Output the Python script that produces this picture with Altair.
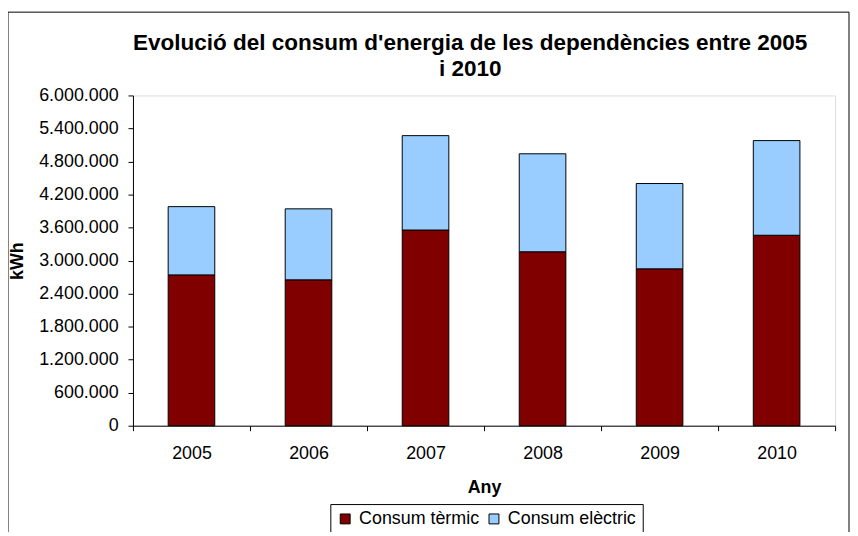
import altair as alt
import pandas as pd

years = ["2005", "2006", "2007", "2008", "2009", "2010"]
termic = [2740000, 2650000, 3555000, 3160000, 2850000, 3460000]
electric = [1240000, 1290000, 1715000, 1780000, 1550000, 1720000]
series = ["Consum tèrmic", "Consum elèctric"]
y_ticks = [0, 600000, 1200000, 1800000, 2400000, 3000000, 3600000, 4200000, 4800000, 5400000, 6000000]

rows = []
for y, t, e in zip(years, termic, electric):
    rows.append({"Any": y, "serie": series[0], "ord": 0, "kWh": t})
    rows.append({"Any": y, "serie": series[1], "ord": 1, "kWh": e})
df = pd.DataFrame(rows)

FONT = "Liberation Sans, Arial, sans-serif"
W, H = 708, 333

bars = alt.Chart(df).mark_bar(size=47, stroke="black", strokeWidth=1).encode(
    x=alt.X("Any:N", sort=years,
            scale=alt.Scale(paddingInner=0, paddingOuter=0),
            axis=alt.Axis(title="Any", labelAngle=0, tickBand="extent", tickSize=5,
                          labelPadding=14, labelFontSize=18, labelFont=FONT,
                          labelColor="black", domainColor="black", tickColor="black",
                          titleFontSize=18, titleFont=FONT, titleFontWeight="bold",
                          titleColor="black", titleX=W / 2, titleY=62,
                          titleBaseline="middle", titleAlign="center")),
    y=alt.Y("kWh:Q", stack="zero",
            scale=alt.Scale(domain=[0, 6000000], nice=False),
            axis=alt.Axis(title="kWh", values=y_ticks, format=",.0f", grid=False,
                          tickSize=5, labelPadding=10, labelFontSize=18, labelFont=FONT,
                          labelColor="black", domainColor="black", tickColor="black",
                          titleFontSize=18, titleFont=FONT, titleFontWeight="bold",
                          titleColor="black", titleX=-116, titleY=H / 2, titleAngle=270,
                          titleBaseline="middle", titleAlign="center")),
    color=alt.Color("serie:N",
                    scale=alt.Scale(domain=series, range=["#800000", "#99CCFF"]),
                    legend=alt.Legend(title=None, orient="none", legendX=199, legendY=412,
                                      direction="horizontal", symbolType="square",
                                      symbolSize=100, symbolStrokeColor="black",
                                      symbolStrokeWidth=1, labelFontSize=18, labelFont=FONT,
                                      labelColor="black", labelOffset=5, columnPadding=5,
                                      padding=6, strokeColor="black", fillColor="white")),
    order=alt.Order("ord:Q", sort="ascending"),
)

frame = alt.Chart(pd.DataFrame({"a": [0]})).mark_rect(
    fill=None, stroke="black", strokeWidth=1
).encode(
    x=alt.value(-126), x2=alt.value(722), y=alt.value(-84), y2=alt.value(460)
)

chart = alt.layer(frame, bars).properties(
    width=W, height=H,
    autosize=alt.AutoSizeParams(type="none"),
    padding={"left": 126, "top": 86, "right": 15, "bottom": 105},
    title=alt.TitleParams(
        text=["Evolució del consum d'energia de les dependències entre 2005", "i 2010"],
        font=FONT, fontSize=22.7, fontWeight="bold", color="black",
        anchor="middle", frame="group", lineHeight=27, dx=-14, dy=84, offset=14,
    ),
).configure_view(
    fill="#C0C0C0", stroke="#808080", strokeWidth=1
).configure(
    background="white",
    locale={"number": {"decimal": ",", "thousands": ".", "grouping": [3], "currency": ["", " €"]}},
)

chart.save("out.html", embed_options={"renderer": "svg", "actions": False})
